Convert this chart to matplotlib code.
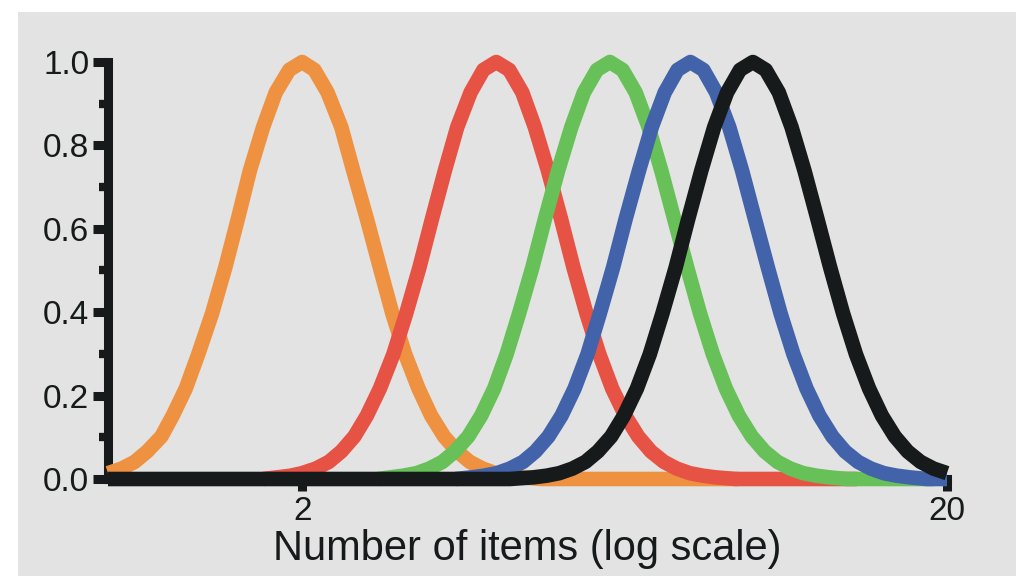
import matplotlib.pyplot as plt
from matplotlib.patches import Rectangle
from matplotlib.ticker import MultipleLocator, NullLocator

plt.rcParams['font.family'] = ['Liberation Sans', 'DejaVu Sans']

# tuning curves (x = number of items, y = normalised response)
orange_x = [1.00, 1.05, 1.10, 1.15, 1.21, 1.26, 1.32, 1.38, 1.45, 1.52, 1.59, 1.66, 1.74, 1.82, 1.91,
            2.00, 2.09, 2.19, 2.30, 2.40, 2.52, 2.64, 2.76, 2.89, 3.03, 3.17, 3.32, 3.48, 3.64, 3.81,
            3.99, 4.18, 4.38, 4.70, 9.50]
orange_y = [0.014, 0.025, 0.041, 0.066, 0.102, 0.152, 0.217, 0.299, 0.397, 0.507, 0.624, 0.740, 0.844,
            0.927, 0.981, 1.000, 0.981, 0.927, 0.844, 0.740, 0.624, 0.507, 0.397, 0.299, 0.217, 0.152,
            0.102, 0.066, 0.041, 0.025, 0.014, 0.008, 0.004, 0.0, 0.0]

red_x = [1.74, 1.83, 1.92, 2.00, 2.10, 2.20, 2.30, 2.41, 2.52, 2.64, 2.77, 2.90, 3.04, 3.18, 3.33, 3.48,
         3.65, 3.82, 4.00, 4.19, 4.39, 4.59, 4.81, 5.04, 5.27, 5.52, 5.78, 6.05, 6.34, 6.64, 6.95, 7.28,
         7.62, 7.98, 8.36, 8.75, 9.40, 14.5]
red_y = [0.0, 0.004, 0.008, 0.014, 0.025, 0.041, 0.066, 0.102, 0.152, 0.217, 0.299, 0.397, 0.507, 0.624,
         0.740, 0.844, 0.927, 0.981, 1.000, 0.981, 0.927, 0.844, 0.740, 0.624, 0.507, 0.397, 0.299, 0.217,
         0.152, 0.102, 0.066, 0.041, 0.025, 0.014, 0.008, 0.004, 0.0, 0.0]

green_x = [2.62, 2.74, 2.87, 3.01, 3.15, 3.30, 3.45, 3.62, 3.79, 3.97, 4.15, 4.34, 4.55, 4.76, 4.99, 5.23,
           5.47, 5.73, 6.00, 6.28, 6.58, 6.89, 7.21, 7.55, 7.91, 8.28, 8.67, 9.08, 9.51, 9.96, 10.43,
           10.92, 11.43, 11.97, 12.54, 13.13, 14.0, 19.1]
green_y = [0.0, 0.004, 0.008, 0.014, 0.025, 0.041, 0.066, 0.102, 0.152, 0.217, 0.299, 0.397, 0.507, 0.624,
           0.740, 0.844, 0.927, 0.981, 1.000, 0.981, 0.927, 0.844, 0.740, 0.624, 0.507, 0.397, 0.299,
           0.217, 0.152, 0.102, 0.066, 0.041, 0.025, 0.014, 0.008, 0.004, 0.0, 0.0]

blue_x = [3.46, 3.66, 3.83, 4.01, 4.20, 4.40, 4.60, 4.82, 5.05, 5.29, 5.54, 5.79, 6.07, 6.35, 6.66, 6.97,
          7.30, 7.64, 8.00, 8.38, 8.77, 9.19, 9.62, 10.07, 10.55, 11.04, 11.56, 12.11, 12.68, 13.28,
          13.90, 14.56, 15.24, 15.96, 16.71, 17.50, 18.6, 20.0]
blue_y = [0.0, 0.004, 0.008, 0.014, 0.025, 0.041, 0.066, 0.102, 0.152, 0.217, 0.299, 0.397, 0.507, 0.624,
          0.740, 0.844, 0.927, 0.981, 1.000, 0.981, 0.927, 0.844, 0.740, 0.624, 0.507, 0.397, 0.299,
          0.217, 0.152, 0.102, 0.066, 0.041, 0.025, 0.014, 0.008, 0.004, 0.0, 0.0]

black_x = [1.00, 4.20, 4.57, 4.79, 5.01, 5.25, 5.50, 5.75, 6.03, 6.31, 6.61, 6.92, 7.24, 7.59, 7.94, 8.32,
           8.71, 9.12, 9.55, 10.00, 10.47, 10.97, 11.48, 12.02, 12.59, 13.18, 13.80, 14.45, 15.14,
           15.85, 16.60, 17.38, 18.20, 19.06, 20.0]
black_y = [0.0, 0.0, 0.004, 0.008, 0.014, 0.025, 0.041, 0.066, 0.102, 0.152, 0.217, 0.299, 0.397, 0.507,
           0.624, 0.740, 0.844, 0.927, 0.981, 1.000, 0.981, 0.927, 0.844, 0.740, 0.624, 0.507, 0.397,
           0.299, 0.217, 0.152, 0.102, 0.066, 0.041, 0.025, 0.014]

curves = [
    (orange_x, orange_y, "#ee9241"),
    (red_x, red_y, "#e65243"),
    (green_x, green_y, "#67c158"),
    (blue_x, blue_y, "#4263a9"),
    (black_x, black_y, "#171a1b"),
]

x_ticks = [2, 20]
x_tick_labels = ["2", "20"]
y_ticks = [0.0, 0.2, 0.4, 0.6, 0.8, 1.0]
y_tick_labels = ["0.0", "0.2", "0.4", "0.6", "0.8", "1.0"]

ink = "#171a1b"

fig = plt.figure(figsize=(10.25, 5.76), dpi=100)
bg = Rectangle((18 / 1025, 0), 998 / 1025, 564 / 576, transform=fig.transFigure,
               facecolor="#e3e3e3", edgecolor="none", zorder=-10)
fig.add_artist(bg)

ax = fig.add_axes([108 / 1025, 97 / 576, 839 / 1025, 417 / 576])
ax.set_zorder(1)
ax.patch.set_visible(False)

for xs, ys, col in curves:
    ax.plot(xs, ys, color=col, lw=10.5, solid_capstyle="butt",
            solid_joinstyle="round", clip_on=False, zorder=3)

ax.set_xscale("log")
ax.set_xlim(1, 20)
ax.set_ylim(0, 1)

ax.set_xticks(x_ticks)
ax.set_xticklabels(x_tick_labels)
ax.xaxis.set_minor_locator(NullLocator())
ax.set_yticks(y_ticks)
ax.set_yticklabels(y_tick_labels)
ax.yaxis.set_minor_locator(MultipleLocator(0.1))

for side in ["top", "right"]:
    ax.spines[side].set_visible(False)
for side in ["left", "bottom"]:
    ax.spines[side].set_linewidth(6.5)
    ax.spines[side].set_color(ink)
    ax.spines[side].set_zorder(2)

ax.tick_params(axis="y", which="major", length=10.5, width=6.5, color=ink,
               labelsize=24, pad=3, labelcolor=ink)
ax.tick_params(axis="y", which="minor", length=6.3, width=6, color=ink)
ax.tick_params(axis="x", which="major", length=8.6, width=6.5, color=ink,
               labelsize=24, pad=4, labelcolor=ink)

ax.set_xlabel("Number of items (log scale)", fontsize=30, color=ink, labelpad=1)

fig.savefig("out.png", dpi=100, facecolor="white")
